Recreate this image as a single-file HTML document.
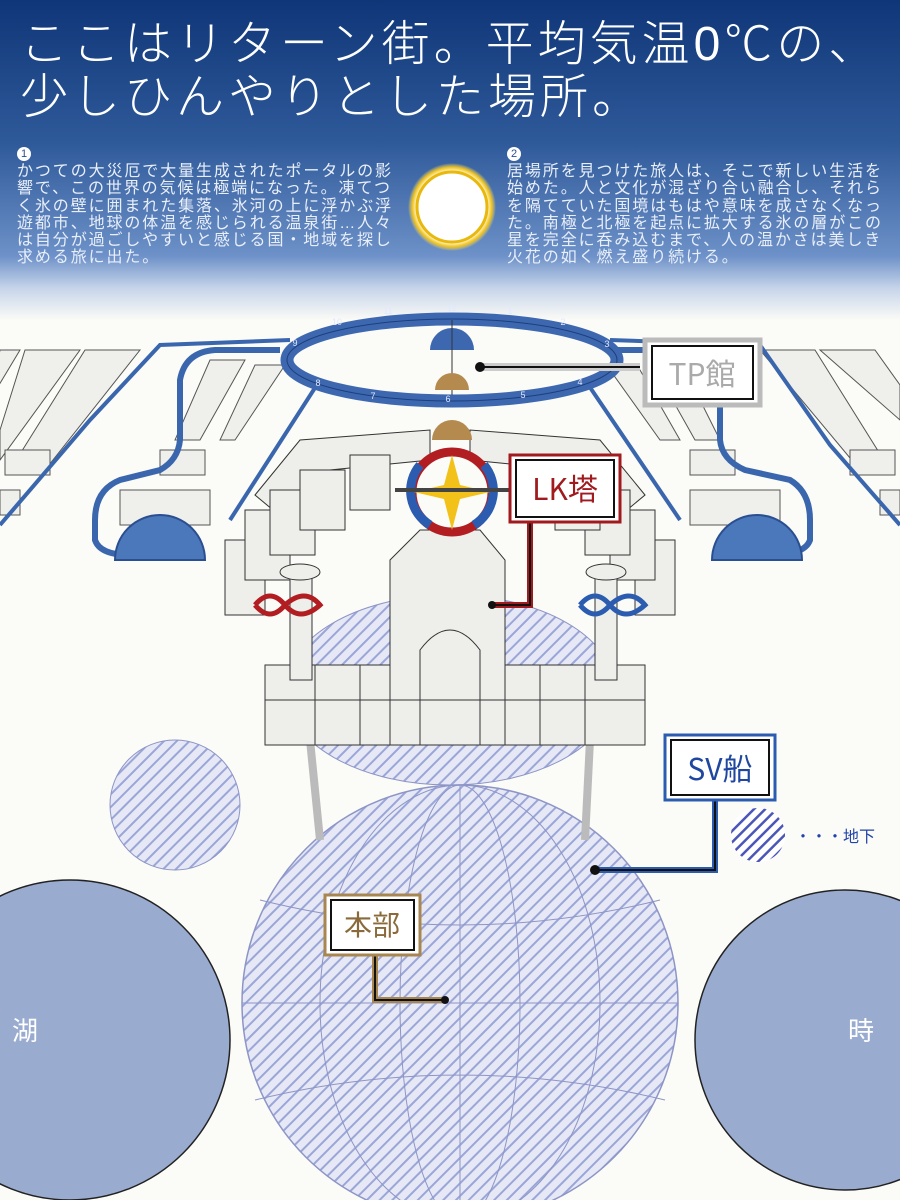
<!DOCTYPE html>
<html><head><meta charset="utf-8"><style>
body{margin:0;width:900px;height:1200px;overflow:hidden;background:#fbfbf7;font-family:"Liberation Sans","Noto Sans CJK JP",sans-serif}
.t{position:absolute;color:#fff;white-space:nowrap}
</style></head><body>
<svg width="900" height="1200" style="position:absolute;left:0;top:0" xmlns="http://www.w3.org/2000/svg">
<defs>
<linearGradient id="sky" x1="0" y1="0" x2="0" y2="1">
<stop offset="0" stop-color="#0f3678"/><stop offset="0.45" stop-color="#2f5a9a"/><stop offset="0.8" stop-color="#6d91c8"/><stop offset="0.9" stop-color="#c6d4ea"/><stop offset="1" stop-color="#fbfbf7"/></linearGradient>
<pattern id="h" width="9" height="9" patternUnits="userSpaceOnUse" patternTransform="rotate(45)"><rect width="9" height="9" fill="#e6e8f6"/><rect width="2" height="9" fill="#9ba6d8"/></pattern>
<pattern id="h2" width="8" height="8" patternUnits="userSpaceOnUse" patternTransform="rotate(45)"><rect width="8" height="8" fill="#fff"/><rect width="2.5" height="8" fill="#4a56b8"/></pattern>
<radialGradient id="sun"><stop offset="0.8" stop-color="#fff"/><stop offset="0.9" stop-color="#f3c51a"/><stop offset="1" stop-color="#f5d860" stop-opacity="0"/></radialGradient>
</defs>
<rect width="900" height="320" fill="url(#sky)"/>
<circle cx="452" cy="207" r="44" fill="url(#sun)"/>
<circle cx="452" cy="207" r="35" fill="#fff" stroke="#e8b80c" stroke-width="3"/>

<g fill="#efefec" stroke="#555" stroke-width="1">
<path d="M0 350 L20 350 L-10 400Z"/>
<path d="M25 350 L80 350 L0 460 L0 430Z"/><path d="M85 350 L140 350 L45 470 L10 470Z"/>
<path d="M820 350 L875 350 L900 385 L900 420Z"/><path d="M760 350 L815 350 L890 470 L860 470Z"/>
<rect x="5" y="450" width="45" height="25"/><rect x="160" y="450" width="45" height="25"/>
<rect x="690" y="450" width="45" height="25"/><rect x="850" y="450" width="45" height="25"/>
<path d="M210 360 L245 360 L200 440 L175 440Z"/><path d="M255 365 L285 365 L235 440 L220 440Z"/>
<path d="M650 360 L680 360 L720 440 L695 440Z"/><path d="M610 370 L640 370 L680 440 L660 440Z"/>
<rect x="120" y="490" width="90" height="35"/><rect x="690" y="490" width="90" height="35"/>
<rect x="0" y="490" width="20" height="25"/><rect x="880" y="490" width="20" height="25"/>
</g>
<g fill="none" stroke="#3a66ad" stroke-width="6">
<path d="M280 350 L215 350 Q185 352 180 380 L180 440 Q178 460 160 470 L120 480 Q95 490 95 520 L95 540 Q100 555 130 555"/>
<path d="M615 350 L690 350 Q715 352 720 380 L720 440 Q722 460 745 470 L790 480 Q810 492 810 520 L810 540 Q805 555 770 555"/>
<path d="M0 525 L90 420 L160 345 L290 340" stroke-width="4"/>
<path d="M900 525 L830 445 L760 345 L610 340" stroke-width="4"/>
<path d="M320 380 L230 520" stroke-width="4"/><path d="M585 380 L680 520" stroke-width="4"/>
</g>
<path d="M115 560 A45 45 0 0 1 205 560Z" fill="#4b78bb" stroke="#2a4f90" stroke-width="2"/>
<path d="M712 560 A45 45 0 0 1 802 560Z" fill="#4b78bb" stroke="#2a4f90" stroke-width="2"/>

<circle cx="175" cy="805" r="65" fill="url(#h)" stroke="#8d95c6"/>
<ellipse cx="450" cy="690" rx="165" ry="95" fill="url(#h)" stroke="#8d95c6"/>
<circle cx="460" cy="1003" r="218" fill="url(#h)" stroke="#8d95c6" stroke-width="1.5"/>
<g fill="none" stroke="#8d95c6">
<ellipse cx="460" cy="1003" rx="140" ry="218"/><ellipse cx="460" cy="1003" rx="60" ry="218"/>
<path d="M242 1003 H678 M460 785 V1221 M260 900 Q460 950 660 900 M255 1100 Q460 1050 665 1100"/>
</g>
<circle cx="70" cy="1040" r="160" fill="#9aabd0" stroke="#222" stroke-width="1.5"/>
<circle cx="845" cy="1040" r="150" fill="#9aabd0" stroke="#222" stroke-width="1.5"/>
<text x="12" y="1040" font-size="26" fill="#fff" font-family="Noto Sans CJK JP">湖</text>
<text x="848" y="1040" font-size="26" fill="#fff" font-family="Noto Sans CJK JP">時</text>
<path d="M310 740 L320 840 M590 740 L585 840" stroke="#bbb" stroke-width="8"/>
<circle cx="758" cy="835" r="27" fill="url(#h2)"/>
<text x="795" y="842" font-size="16" fill="#2244aa" font-family="Noto Sans CJK JP">・・・地下</text>

<path d="M430 350 A22 22 0 0 1 474 350Z" fill="#3d68b0"/>
<ellipse cx="452" cy="360" rx="165" ry="41" fill="none" stroke="#3d68b0" stroke-width="13"/>
<ellipse cx="452" cy="360" rx="165" ry="41" fill="none" stroke="#1d3f7c" stroke-width="1"/>
<g font-size="9" fill="#dfe8ff" text-anchor="middle"><text x="452" y="311">12</text><text x="510" y="314">1</text><text x="563" y="325">2</text><text x="607" y="347">3</text><text x="580" y="385">4</text><text x="523" y="398">5</text><text x="448" y="402">6</text><text x="373" y="399">7</text><text x="318" y="386">8</text><text x="295" y="346">9</text><text x="337" y="325">10</text><text x="388" y="314">11</text></g>
<path d="M452 320 V395" stroke="#333"/>
<path d="M435 390 A17 17 0 0 1 469 390Z" fill="#b48a4e"/>

<g fill="#eeeeea" stroke="#333" stroke-width="1">
<path d="M255 495 L300 440 L430 430 L430 460 L330 470 L285 520Z"/>
<path d="M645 495 L600 440 L470 430 L470 460 L570 470 L615 520Z"/>
<rect x="225" y="540" width="40" height="75"/><rect x="245" y="510" width="45" height="70"/><rect x="270" y="490" width="45" height="65"/><rect x="300" y="470" width="45" height="60"/><rect x="350" y="455" width="40" height="55"/>
<rect x="635" y="540" width="40" height="75"/><rect x="610" y="510" width="45" height="70"/><rect x="585" y="490" width="45" height="65"/><rect x="555" y="470" width="45" height="60"/><rect x="510" y="455" width="40" height="55"/>
<rect x="265" y="665" width="380" height="80"/>
<path d="M390 560 L420 530 L480 530 L505 560 L505 745 L390 745Z"/>
<path d="M420 650 Q450 610 480 650 L480 745 L420 745Z"/>
<rect x="290" y="568" width="22" height="112"/><rect x="595" y="568" width="22" height="112"/>
<ellipse cx="300" cy="572" rx="20" ry="8"/><ellipse cx="606" cy="572" rx="20" ry="8"/>
</g>
<path d="M265 700 H645 M315 665 V745 M360 665 V745 M540 665 V745 M585 665 V745" stroke="#333"/>
<path d="M432 440 A20 20 0 0 1 472 440Z" fill="#b48a4e"/>
<circle cx="452" cy="492" r="40" fill="none" stroke="#b21d22" stroke-width="9"/>
<path d="M420 465 A40 40 0 0 0 430 525" stroke="#2b5cb0" stroke-width="9" fill="none"/>
<path d="M484 465 A40 40 0 0 1 474 525" stroke="#2b5cb0" stroke-width="9" fill="none"/>
<path d="M452 455 L460 485 L490 492 L460 499 L452 530 L444 499 L414 492 L444 485Z" fill="#f2c21b"/>
<path d="M395 490 H510" stroke="#444" stroke-width="4"/>
<path d="M255 605 q15 -18 30 0 q15 18 35 0 q-15 -18 -35 0 q-15 18 -30 0" fill="none" stroke="#b21d22" stroke-width="5"/>
<path d="M580 605 q15 -18 30 0 q15 18 35 0 q-15 -18 -35 0 q-15 18 -30 0" fill="none" stroke="#2b5cb0" stroke-width="5"/>

<path d="M480 367 H640" stroke="#ccc" stroke-width="8" fill="none"/><path d="M480 367 H640" stroke="#111" stroke-width="2"/><circle cx="480" cy="367" r="5" fill="#111"/>
<rect x="645" y="340" width="115" height="65" fill="#fff" stroke="#bbb" stroke-width="5"/><rect x="652" y="346" width="101" height="53" fill="#fff" stroke="#111" stroke-width="2"/>
<text x="702" y="385" font-size="30" fill="#aaa" text-anchor="middle" font-family="Noto Sans CJK JP">TP館</text>
<path d="M492 605 H530 V520" stroke="#a01a1e" stroke-width="6" fill="none"/><path d="M492 605 H530 V520" stroke="#111" stroke-width="2" fill="none"/><circle cx="492" cy="605" r="4" fill="#111"/>
<rect x="510" y="455" width="110" height="67" fill="#fff" stroke="#a01a1e" stroke-width="3"/><rect x="516" y="460" width="98" height="57" fill="#fff" stroke="#111" stroke-width="2"/>
<text x="565" y="500" font-size="30" fill="#a01a1e" text-anchor="middle" font-family="Noto Sans CJK JP">LK塔</text>
<path d="M595 870 H715 V800" stroke="#2b5cb0" stroke-width="6" fill="none"/><path d="M595 870 H715 V800" stroke="#111" stroke-width="2" fill="none"/><circle cx="595" cy="870" r="5" fill="#111"/>
<rect x="665" y="735" width="110" height="65" fill="#fff" stroke="#2b5cb0" stroke-width="3"/><rect x="671" y="740" width="98" height="55" fill="#fff" stroke="#111" stroke-width="2"/>
<text x="720" y="780" font-size="30" fill="#1f47a0" text-anchor="middle" font-family="Noto Sans CJK JP">SV船</text>
<path d="M445 1000 H375 V955" stroke="#a88650" stroke-width="6" fill="none"/><path d="M445 1000 H375 V955" stroke="#111" stroke-width="2" fill="none"/><circle cx="445" cy="1000" r="4" fill="#111"/>
<rect x="325" y="895" width="95" height="60" fill="#fff" stroke="#a88650" stroke-width="3"/><rect x="331" y="900" width="83" height="50" fill="#fff" stroke="#111" stroke-width="2"/>
<text x="372" y="935" font-size="28" fill="#8a6a3a" text-anchor="middle" font-family="Noto Sans CJK JP">本部</text>
</svg>
<div class="t" style="left:20px;top:18px;font-size:48px;line-height:53px;letter-spacing:4px;font-weight:300">ここはリターン街。平均気温0℃の、<br>少しひんやりとした場所。</div>
<div class="t" style="left:17px;top:147px;width:14px;height:14px;border-radius:50%;background:#fff;color:#2a4f90;font-size:11px;line-height:14px;text-align:center">1</div>
<div class="t" style="left:17px;top:163px;font-size:16px;line-height:17.3px;letter-spacing:1.9px;color:#e9effa">かつての大災厄で大量生成されたポータルの影<br>響で、この世界の気候は極端になった。凍てつ<br>く氷の壁に囲まれた集落、氷河の上に浮かぶ浮<br>遊都市、地球の体温を感じられる温泉街…人々<br>は自分が過ごしやすいと感じる国・地域を探し<br>求める旅に出た。</div>
<div class="t" style="left:507px;top:147px;width:14px;height:14px;border-radius:50%;background:#fff;color:#2a4f90;font-size:11px;line-height:14px;text-align:center">2</div>
<div class="t" style="left:507px;top:163px;font-size:16px;line-height:17.3px;letter-spacing:1.9px;color:#e9effa">居場所を見つけた旅人は、そこで新しい生活を<br>始めた。人と文化が混ざり合い融合し、それら<br>を隔てていた国境はもはや意味を成さなくなっ<br>た。南極と北極を起点に拡大する氷の層がこの<br>星を完全に呑み込むまで、人の温かさは美しき<br>火花の如く燃え盛り続ける。</div>
</body></html>
